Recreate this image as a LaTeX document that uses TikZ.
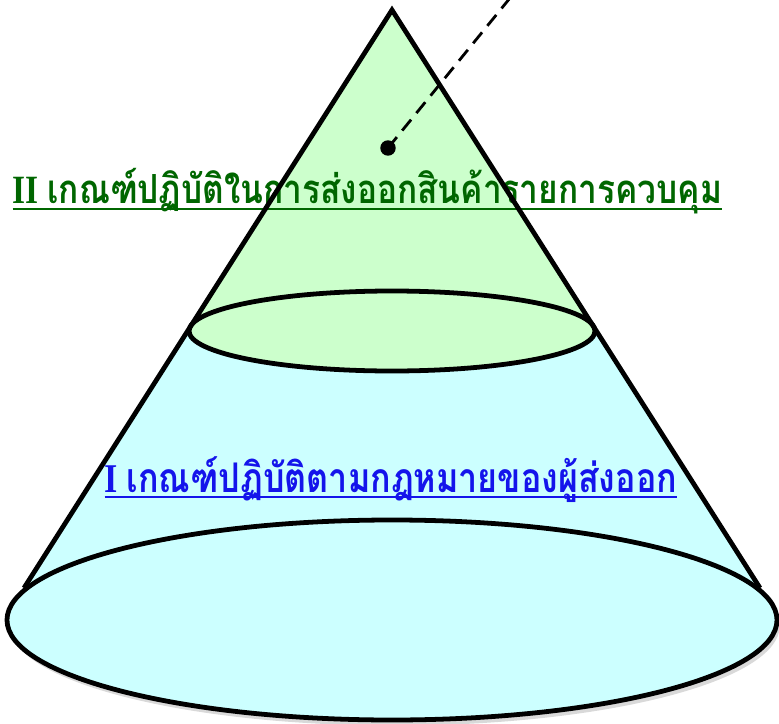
\documentclass[tikz,border=0pt]{standalone}
\usepackage{fontspec}
\setmainfont{Liberation Serif}
\newfontfamily\thaifont[Script=Thai]{Loma}
\usepackage{graphicx}
\usepackage{tikz}
\usetikzlibrary{calc,shadows}
\definecolor{conegreen}{RGB}{204,255,204}
\definecolor{conecyan}{RGB}{204,255,255}
\definecolor{leveltwo}{RGB}{0,102,0}
\definecolor{levelone}{RGB}{20,20,235}

\begin{document}
\begin{tikzpicture}[x=0.025cm,y=-0.025cm,
  rim/.style={line width=3.4pt,line join=miter},
  lvl/.style={anchor=base,inner sep=0pt,font=\bfseries},
  uline/.style={line width=1.9pt},
  lead/.style={line width=2pt,dash pattern=on 10pt off 6pt}]
\useasboundingbox (0,0) rectangle (779,724);
% Cone geometry
\def\cx{392} \def\apy{10}
\def\by{620} \def\brx{385} \def\bry{100}
\def\my{331} \def\mrx{203} \def\mry{40}
\coordinate (apex) at (\cx,\apy);
\coordinate (bl) at (24,588);
\coordinate (br) at (760,588);
\coordinate (ml) at (\cx-\mrx,\my);
\coordinate (mr) at (\cx+\mrx,\my);
% Lower part (cyan)
\fill[conecyan] (apex) -- (bl) -- (br) -- cycle;
\fill[conecyan,drop shadow={shadow xshift=2pt,shadow yshift=-4pt,opacity=0.3}]
  (\cx,\by) ellipse [x radius=\brx, y radius=\bry];
% Upper part (green)
\fill[conegreen] (apex) -- (ml) -- (mr) -- cycle;
\fill[conegreen] (\cx,\my) ellipse [x radius=\mrx, y radius=\mry];
% Level labels
\node[lvl,text=leveltwo] (lvltwo) at (367.5,203)
  {\resizebox{17.72cm}{!}{\scalebox{1}[1.2]{II {\thaifont เกณฑ์ปฏิบัติในการส่งออกสินค้ารายการควบคุม}}}};
\draw[uline,leveltwo] ($(lvltwo.base west)+(0,6)$) -- ($(lvltwo.base east)+(0,6)$);
\node[lvl,text=levelone] (lvlone) at (391,492)
  {\resizebox{14.3cm}{!}{\scalebox{1}[1.2]{I {\thaifont เกณฑ์ปฏิบัติตามกฎหมายของผู้ส่งออก}}}};
\draw[uline,levelone] ($(lvlone.base west)+(0,5)$) -- ($(lvlone.base east)+(0,5)$);
% Outlines
\draw[rim] (bl) -- (apex) -- (br);
\draw[rim] (\cx,\by) ellipse [x radius=\brx, y radius=\bry];
\draw[rim] (\cx,\my) ellipse [x radius=\mrx, y radius=\mry];
% Pointer from the top level
\node[circle,fill=black,inner sep=0pt,minimum size=11pt] (tip) at (388,148) {};
\coordinate (leadend) at (510,-2);
\draw[lead] (tip.center) -- (leadend);
\end{tikzpicture}
\end{document}
